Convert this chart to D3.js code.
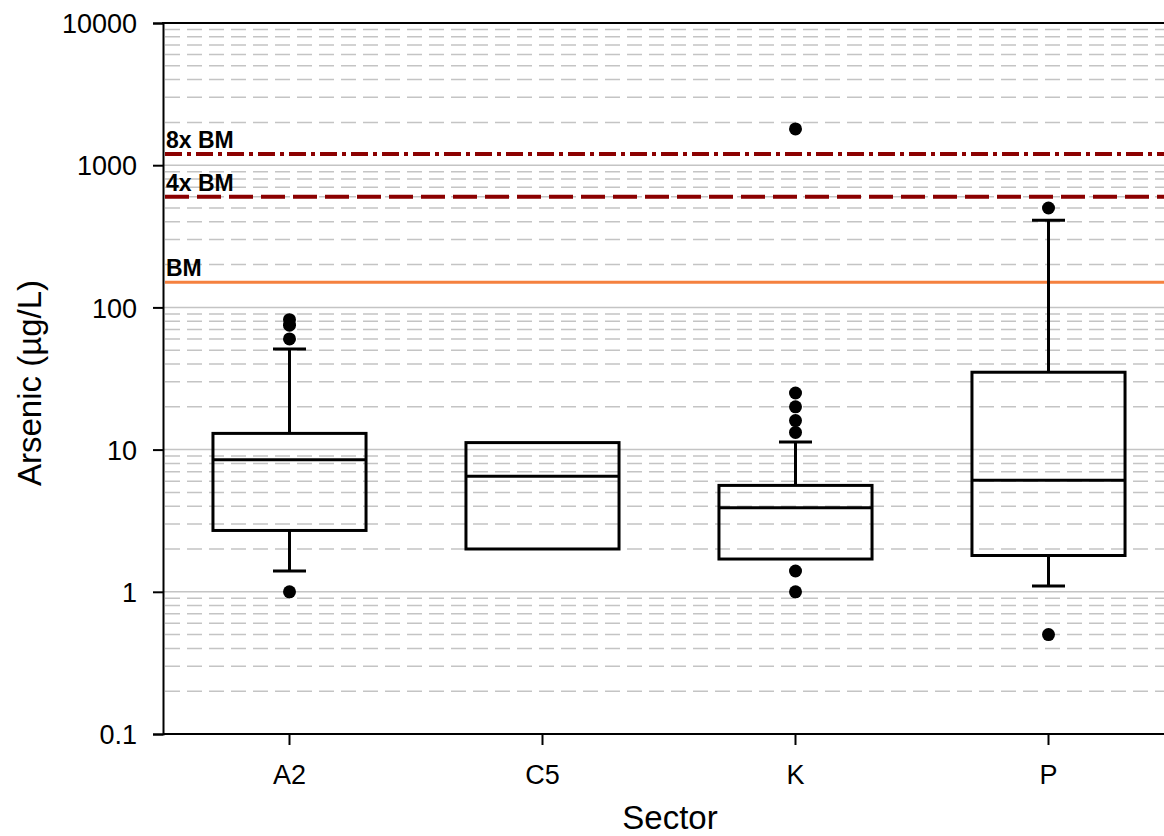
<!DOCTYPE html>
<html>
    <head>
        <meta charset="utf-8" />
        <title>Arsenic by Sector</title>
        <style type="text/css">
            body {
                margin: 0;
                background-color: #fff;
            }
            svg {
                display: block;
                font-family: "Liberation Sans", Arial, sans-serif;
            }
            .axis path,
            .axis line {
                stroke: #000;
                stroke-width: 2px;
            }
            .axis text {
                fill: #000;
                font-size: 27px;
                font-family: "Liberation Sans", Arial, sans-serif;
            }
            .grid-major {
                stroke: #c4c4c4;
                stroke-width: 1.5px;
            }
            .grid-minor {
                stroke: #c4c4c4;
                stroke-width: 1.5px;
                stroke-dasharray: 15 7;
            }
            .box {
                fill: none;
                stroke: #000;
                stroke-width: 3px;
            }
            .reflabel {
                font-size: 23px;
                font-weight: bold;
                fill: #000;
            }
            .title {
                font-size: 33px;
                fill: #000;
            }
        </style>
        <script src="https://d3js.org/d3.v7.min.js"></script>
    </head>
    <body>
        <div id="chart"></div>
        <script type="text/javascript">
            var sectors = ["A2", "C5", "K", "P"];
            var q1 = [2.7, 2.0, 1.7, 1.8];
            var median = [8.5, 6.5, 3.9, 6.1];
            var q3 = [13, 11.2, 5.6, 35];
            var whiskerLow = [1.4, null, null, 1.1];
            var whiskerHigh = [51, null, 11.3, 410];
            var outliers = [
                [82, 75, 60, 1.0],
                [],
                [1800, 25, 20, 16, 13.2, 1.4, 1.0],
                [500, 0.5]
            ];
            var yTicks = [0.1, 1, 10, 100, 1000, 10000];
            var refValues = [150, 600, 1200];
            var refLabels = ["BM", "4x BM", "8x BM"];

            var width = 1164,
                height = 836;
            var plotLeft = 163,
                plotTop = 23,
                plotBottom = 734,
                plotRight = 1175;

            var svg = d3
                .select("#chart")
                .append("svg")
                .attr("width", width)
                .attr("height", height);

            var y = d3.scaleLog().domain([0.1, 10000]).range([plotBottom, plotTop]);
            var x = d3.scaleBand().domain(sectors).range([plotLeft, plotRight]);
            var boxW = x.bandwidth() * 0.605;
            var capW = 33;

            // grid lines
            var minor = [],
                major = [];
            [0.1, 1, 10, 100, 1000].forEach(function (d) {
                for (var k = 2; k <= 9; k++) minor.push(d * k);
                if (d > 0.1) major.push(d);
            });
            svg.selectAll(".grid-minor")
                .data(minor)
                .enter()
                .append("line")
                .attr("class", "grid-minor")
                .attr("x1", plotLeft + 2)
                .attr("x2", width)
                .attr("y1", function (d) { return y(d); })
                .attr("y2", function (d) { return y(d); });
            svg.selectAll(".grid-major")
                .data(major)
                .enter()
                .append("line")
                .attr("class", "grid-major")
                .attr("x1", plotLeft)
                .attr("x2", width)
                .attr("y1", function (d) { return y(d); })
                .attr("y2", function (d) { return y(d); });

            // reference lines
            var refColors = ["#f5813f", "#8b0000", "#8b0000"];
            var refDash = [null, "24 8", "17 5 4 5"];
            var refWidth = [3, 4, 4];
            refValues.forEach(function (v, i) {
                svg.append("line")
                    .attr("x1", plotLeft + 2)
                    .attr("x2", width)
                    .attr("y1", y(v))
                    .attr("y2", y(v))
                    .attr("stroke", refColors[i])
                    .attr("stroke-width", refWidth[i])
                    .attr("stroke-dasharray", refDash[i]);
                svg.append("text")
                    .attr("class", "reflabel")
                    .attr("x", plotLeft + 3)
                    .attr("y", y(v) - 6)
                    .text(refLabels[i]);
            });

            // boxes
            var g = svg
                .selectAll(".sector")
                .data(sectors)
                .enter()
                .append("g")
                .attr("class", "sector");

            g.each(function (s, i) {
                var cx = x(s) + x.bandwidth() / 2;
                var el = d3.select(this);
                if (whiskerHigh[i] != null) {
                    el.append("line").attr("class", "box")
                        .attr("x1", cx).attr("x2", cx)
                        .attr("y1", y(q3[i])).attr("y2", y(whiskerHigh[i]));
                    el.append("line").attr("class", "box")
                        .attr("x1", cx - capW / 2).attr("x2", cx + capW / 2)
                        .attr("y1", y(whiskerHigh[i])).attr("y2", y(whiskerHigh[i]));
                }
                if (whiskerLow[i] != null) {
                    el.append("line").attr("class", "box")
                        .attr("x1", cx).attr("x2", cx)
                        .attr("y1", y(q1[i])).attr("y2", y(whiskerLow[i]));
                    el.append("line").attr("class", "box")
                        .attr("x1", cx - capW / 2).attr("x2", cx + capW / 2)
                        .attr("y1", y(whiskerLow[i])).attr("y2", y(whiskerLow[i]));
                }
                el.append("rect").attr("class", "box")
                    .attr("x", cx - boxW / 2)
                    .attr("width", boxW)
                    .attr("y", y(q3[i]))
                    .attr("height", y(q1[i]) - y(q3[i]));
                el.append("line").attr("class", "box")
                    .attr("x1", cx - boxW / 2).attr("x2", cx + boxW / 2)
                    .attr("y1", y(median[i])).attr("y2", y(median[i]));
                el.selectAll("circle")
                    .data(outliers[i])
                    .enter()
                    .append("circle")
                    .attr("cx", cx)
                    .attr("cy", function (d) { return y(d); })
                    .attr("r", 6.5)
                    .attr("fill", "#000");
            });

            // axes
            var yAxis = d3
                .axisLeft(y)
                .tickValues(yTicks)
                .tickFormat(d3.format(""))
                .tickSizeOuter(0)
                .tickSize(10)
                .tickPadding(16);
            svg.append("g")
                .attr("class", "axis")
                .attr("transform", "translate(" + plotLeft + ",0)")
                .call(yAxis)
                .selectAll("text")
                .attr("dy", "0.36em");

            var xAxis = d3
                .axisBottom(x)
                .tickSizeOuter(0)
                .tickSize(11)
                .tickPadding(20);
            var xg = svg.append("g")
                .attr("class", "axis")
                .attr("transform", "translate(0," + plotBottom + ")")
                .call(xAxis);
            xg.select(".domain").attr("d", "M" + plotLeft + ",0H" + width);

            // top frame
            svg.append("line")
                .attr("x1", plotLeft - 1)
                .attr("x2", width)
                .attr("y1", plotTop)
                .attr("y2", plotTop)
                .attr("stroke", "#000")
                .attr("stroke-width", 2);

            svg.append("text")
                .attr("class", "title")
                .attr("text-anchor", "middle")
                .attr("transform", "translate(41,383) rotate(-90)")
                .text("Arsenic (\u00b5g/L)");

            svg.append("text")
                .attr("class", "title")
                .attr("text-anchor", "middle")
                .attr("x", 670)
                .attr("y", 829)
                .text("Sector");
        </script>
    </body>
</html>
